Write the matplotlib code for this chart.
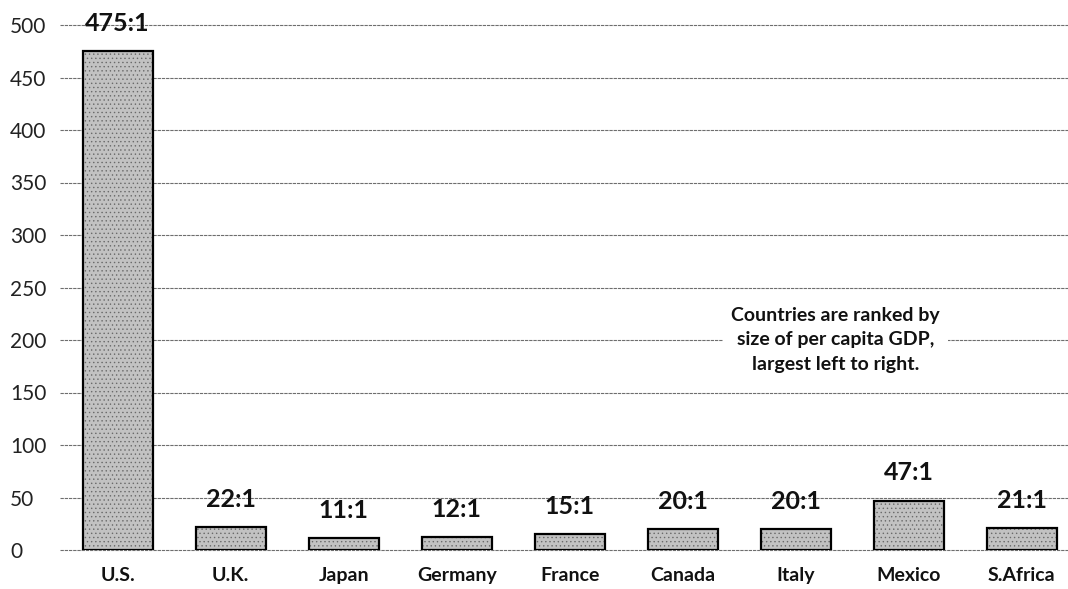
import matplotlib
matplotlib.use("Agg")
import matplotlib.pyplot as plt
import matplotlib.transforms as mtransforms

# data
countries = ["U.S.", "U.K.", "Japan", "Germany", "France", "Canada", "Italy", "Mexico", "S.Africa"]
ratios = [475, 22, 11, 12, 15, 20, 20, 47, 21]
ratio_labels = ["475:1", "22:1", "11:1", "12:1", "15:1", "20:1", "20:1", "47:1", "21:1"]
y_ticks = [0, 50, 100, 150, 200, 250, 300, 350, 400, 450, 500]
note = "Countries are ranked by\nsize of per capita GDP,\nlargest left to right."

plt.rcParams['font.family'] = ['Lato', 'DejaVu Sans']
plt.rcParams['hatch.linewidth'] = 0.5

fig = plt.figure(figsize=(10.68, 5.89), dpi=100)
ax = fig.add_axes([60 / 1068, 1 - 550 / 589, 1 - 60 / 1068, 546 / 589])

x = list(range(len(countries)))
# stippled fill, then the black outline on top
ax.bar(x, ratios, width=0.62, color='#c2c2c2', edgecolor='#6a6a6a', linewidth=0, hatch='....', zorder=3)
ax.bar(x, ratios, width=0.62, facecolor='none', edgecolor='black', linewidth=1.6, zorder=3)

for xi, v, lab in zip(x, ratios, ratio_labels):
    ax.annotate(lab, (xi, v), xytext=(0, 20), textcoords='offset points',
                ha='center', va='center', fontsize=18, fontweight='bold', color='#111111', zorder=4)

ax.set_xlim(-0.51, 8.41)
ax.set_ylim(0, 520)

ax.set_yticks(y_ticks)
ax.set_yticklabels([str(t) for t in y_ticks], fontsize=15, color='#222222')
ax.tick_params(axis='y', length=0, pad=0)
offset = mtransforms.ScaledTranslation(-50 / 100, 0, fig.dpi_scale_trans)
for lbl in ax.get_yticklabels():
    lbl.set_horizontalalignment('left')
    lbl.set_transform(lbl.get_transform() + offset)

ax.set_xticks(x)
ax.set_xticklabels(countries, fontsize=14, fontweight='bold', color='#111111')
ax.tick_params(axis='x', length=0, pad=12)

for t in y_ticks:
    ax.axhline(t, color='#6e6e6e', linewidth=0.8, linestyle=(0, (3, 0.8)), zorder=1, clip_on=False)

for s in ax.spines.values():
    s.set_visible(False)

ax.text(6.35, 200, note, ha='center', va='center', fontsize=14, fontweight='bold',
        color='#111111', linespacing=1.55, zorder=5,
        bbox=dict(facecolor='white', edgecolor='none', pad=6))

fig.savefig("out.png", dpi=100)
